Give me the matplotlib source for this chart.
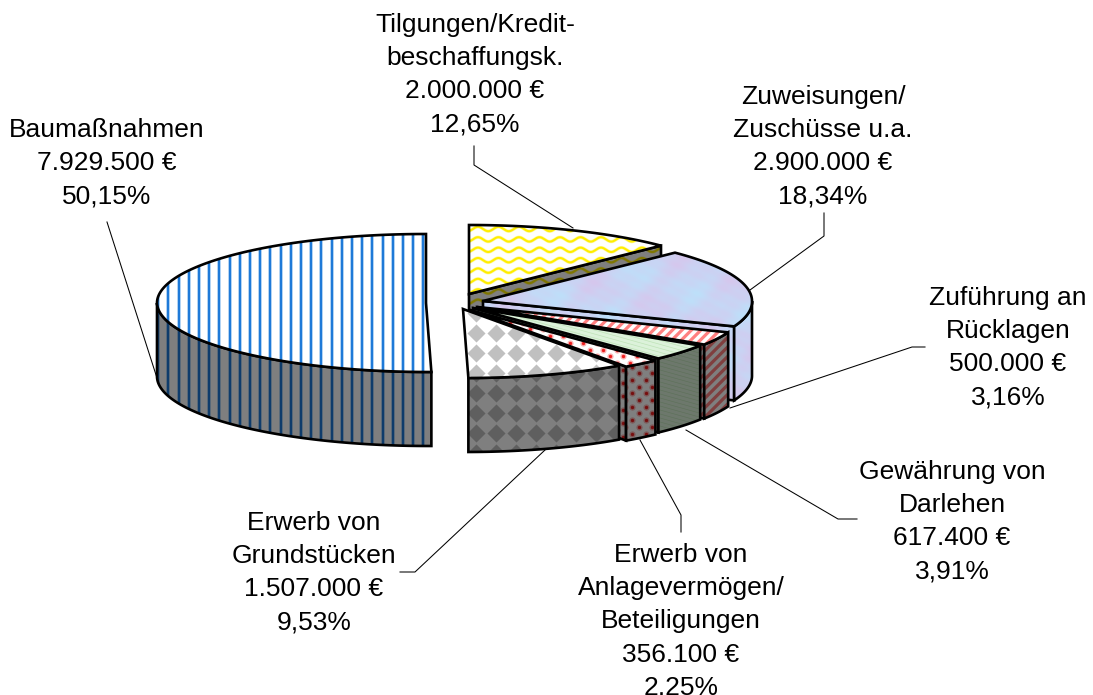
import numpy as np
import matplotlib as mpl
mpl.use('Agg')
import matplotlib.pyplot as plt
from matplotlib.patches import Polygon

plt.rcParams['font.family'] = ['Liberation Sans', 'DejaVu Sans']

# clockwise from twelve o'clock
names = ['Tilgungen', 'Zuweisungen', 'Zufuehrung', 'Gewaehrung', 'Anlage', 'Grundstuecke', 'Baumassnahmen']
values = [2000000, 2900000, 500000, 617400, 356100, 1507000, 7929500]
percent = ['12,65%', '18,34%', '3,16%', '3,91%', '2,25%', '9,53%', '50,15%']
label_head = [['Tilgungen/Kredit-', 'beschaffungsk.'],
              ['Zuweisungen/', 'Zuschüsse u.a.'],
              ['Zuführung an', 'Rücklagen'],
              ['Gewährung von', 'Darlehen'],
              ['Erwerb von', 'Anlagevermögen/', 'Beteiligungen'],
              ['Erwerb von', 'Grundstücken'],
              ['Baumaßnahmen']]

# layout, in pixels of the 1093x695 picture
A, B, DEPTH, SHEAR = 269, 69, 74, 0.04
centres = [(469, 294), (483, 301), (477, 307), (473, 308), (470, 310), (463, 309), (426, 303)]
# first baseline of each label
label_pos = [(475, 32), (823, 104), (1008, 305), (952, 479), (681, 562), (314, 530), (107, 137)]
leaders = [[(474, 146), (474, 165), (573, 228)],
           [(824, 213), (824, 236), (750, 290)],
           [(925, 347), (912, 347), (730, 408)],
           [(857, 519), (838, 519), (686, 430)],
           [(681, 532), (681, 515), (640, 440)],
           [(400, 572), (415, 572), (545, 450)],
           [(107, 222), (157, 378)]]
line_step = 33.2


def euro(v):
    return '{:,}'.format(v).replace(',', '.') + ' €'


fig = plt.figure(figsize=(10.93, 6.95), dpi=100)
ax = fig.add_axes([0, 0, 1, 1])
ax.set_xlim(0, 1093)
ax.set_ylim(695, 0)
ax.axis('off')

zc = [10]
def nz():
    zc[0] += 1
    return zc[0]


def pt(c, th, dy=0):
    t = np.radians(th)
    return (c[0] + A*np.sin(t) + SHEAR*B*max(0, -np.cos(t)), c[1] - B*np.cos(t) + dy)


def arc(c, t1, t2, dy=0):
    n = max(2, int(abs(t2-t1)) + 2)
    return [pt(c, t, dy) for t in np.linspace(t1, t2, n)]


# fill patterns
def p_stripes(box, clip):
    for x in np.arange(168.3 - 30*10.2, box[2], 10.2):
        if x < box[0] - 3:
            continue
        for lw, col in ((2.6, '#a9cff3'), (1.5, '#1f7ad8')):
            l, = ax.plot([x, x], [box[1], box[3]], color=col, lw=lw, zorder=nz(), solid_capstyle='butt')
            l.set_clip_path(clip)


def p_waves(box, clip):
    xs = np.arange(box[0], box[2], 1.0)
    for y in np.arange(229 - 5*10.4, box[3] + 10, 10.4):
        for lw, col in ((2.4, '#fff9a8'), (1.5, '#ffee00')):
            l, = ax.plot(xs, y + 2.2*np.cos(2*np.pi*(xs - 478)/20.5 + np.pi), color=col, lw=lw, zorder=nz())
            l.set_clip_path(clip)


def p_mottle(box, clip):
    xs = np.arange(box[0], box[2], 2.0)
    ys = np.arange(box[1], box[3], 2.0)
    xx, yy = np.meshgrid(xs, ys)
    m = (np.sin(xx/11.0 + yy/17.0) + np.sin(xx/23.0 - yy/9.0 + 1) + np.sin((xx+yy)/5.3) * .5 + np.sin((xx-2*yy)/3.7) * .4)
    m = (m - m.min())/(m.max() - m.min())
    c0 = np.array([0.74, 0.88, 0.98])
    c1 = np.array([0.84, 0.78, 0.93])
    img = c0 + (c1 - c0)*m[..., None]
    im = ax.imshow(img, extent=(box[0], box[2], box[3], box[1]), aspect='auto', zorder=nz(), interpolation='bilinear')
    im.set_clip_path(clip)


def p_redstripes(box, clip):
    h = box[3] - box[1]
    for x in np.arange(box[0] - h, box[2] + h, 9.5):
        l, = ax.plot([x, x + h], [box[3], box[1]], color='#ff8080', lw=2.3, zorder=nz())
        l.set_clip_path(clip)


def p_green(box, clip):
    clip.set_facecolor('#dcf2da')
    for y in np.arange(box[1] - 200, box[3] + 200, 4):
        l, = ax.plot([box[0], box[2]], [y, y + (box[2]-box[0])*0.28], color='#bfe3b8', lw=0.5, zorder=nz())
        l.set_clip_path(clip)


def p_dots(box, clip):
    xs, ys = [], []
    for i, y in enumerate(np.arange(box[1] - 14, box[3] + 14, 6.7)):
        for x in np.arange(box[0] - 14 + (i % 2)*6.7, box[2] + 14, 13.4):
            xs.append(x)
            ys.append(y)
    for size, col in ((20, '#fbb4b4'), (6, '#ee2020')):
        s = ax.scatter(xs, ys, s=size, color=col, linewidths=0, zorder=nz())
        s.set_clip_path(clip)


def p_diamonds(box, clip):
    xs, ys = [], []
    rows = np.arange(393 - 20*6, box[3] + 20, 20)
    cols = np.arange(476, box[2] + 20, 20)
    for y in rows:
        xs.extend(cols)
        ys.extend([y]*len(cols))
    s = ax.scatter(xs, ys, s=85, marker='D', color='#c0c0c0', linewidths=0, zorder=nz())
    s.set_clip_path(clip)


patterns = [p_waves, p_mottle, p_redstripes, p_green, p_dots, p_diamonds, p_stripes]
wall_dark = [True, False, True, True, True, True, True]


def face(verts, pattern, dark):
    verts = np.array(verts)
    clip = Polygon(verts, closed=True, fc='white', ec='none', zorder=nz())
    ax.add_patch(clip)
    box = (verts[:, 0].min(), verts[:, 1].min(), verts[:, 0].max(), verts[:, 1].max())
    pattern(box, clip)
    if dark:
        ax.add_patch(Polygon(verts, closed=True, fc='black', ec='none', alpha=0.5, zorder=nz()))
    ax.add_patch(Polygon(verts, closed=True, fill=False, ec='black', lw=1.9, joinstyle='miter', zorder=nz()))


shares = np.array(values)/sum(values)*360
ends = np.cumsum(shares)
starts = ends - shares

for i in [6, 0, 1, 2, 3, 4, 5]:
    c, t1, t2 = centres[i], starts[i], ends[i]
    # cut face towards the viewer
    if t2 < 170:
        p = pt(c, t2)
        face([c, p, (p[0], p[1] + DEPTH), (c[0], c[1] + DEPTH)], patterns[i], wall_dark[i])
    # outer rim
    a1, a2 = max(t1, 90), min(t2, 270)
    if a2 > a1:
        face(arc(c, a1, a2) + arc(c, a2, a1, DEPTH), patterns[i], wall_dark[i])
    # top
    face([c] + arc(c, t1, t2), patterns[i], False)

for pts in leaders:
    xy = np.array(pts)
    ax.plot(xy[:, 0], xy[:, 1], color='black', lw=0.75, zorder=5)

for i in range(len(values)):
    lines = label_head[i] + [euro(values[i]), percent[i]]
    x, y = label_pos[i]
    for j, s in enumerate(lines):
        ax.text(x, y + j*line_step, s, ha='center', va='baseline', fontsize=19.0, color='black', zorder=50000)

fig.savefig('out.png', dpi=100)
